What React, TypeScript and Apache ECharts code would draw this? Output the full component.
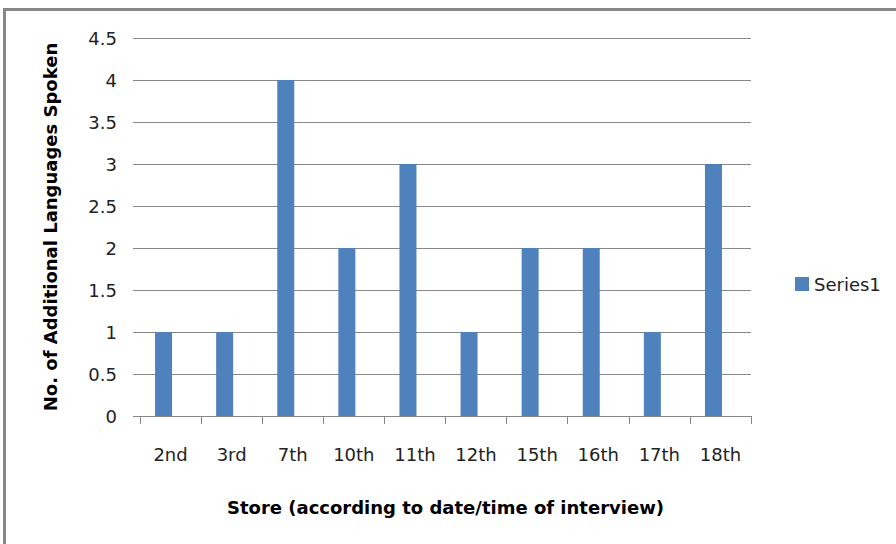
import React, { useEffect, useRef } from "react";
import * as echarts from "echarts";

const categories = ["2nd", "3rd", "7th", "10th", "11th", "12th", "15th", "16th", "17th", "18th"];
const values = [1, 1, 4, 2, 3, 1, 2, 2, 1, 3];
const seriesName = "Series1";
const yTitle = "No. of Additional Languages Spoken";
const xTitle = "Store (according to date/time of interview)";
const yMin = 0;
const yMax = 4.5;
const yStep = 0.5;

const FONT = "'DejaVu Sans', sans-serif";
const GRID_COLOR = "#888888";

export default function App() {
  const ref = useRef<HTMLDivElement>(null);
  useEffect(() => {
    if (!ref.current) return;
    const chart = echarts.init(ref.current, null, { renderer: "svg" });
    chart.setOption({
      animation: false,
      backgroundColor: "#ffffff",
      textStyle: { fontFamily: FONT },
      legend: {
        data: [seriesName],
        left: 790,
        top: 270,
        orient: "vertical",
        itemWidth: 14,
        itemHeight: 14,
        icon: "rect",
        textStyle: { fontFamily: FONT, fontSize: 18, color: "#222" },
      },
      graphic: [
        { type: "rect", shape: { x: 3, y: 8, width: 3, height: 540 }, style: { fill: "#888888" } },
        { type: "rect", shape: { x: 3, y: 8, width: 900, height: 3 }, style: { fill: "#888888" } },
      ],
      grid: [
        { left: 140, top: 38, width: 611, height: 378 },
        { left: 133, top: 38, width: 611, height: 378 },
      ],
      xAxis: [
        {
          type: "category",
          gridIndex: 0,
          data: categories,
          name: xTitle,
          nameLocation: "middle",
          nameGap: 82,
          nameTextStyle: { fontFamily: FONT, fontSize: 18, fontWeight: "bold", color: "#000" },
          axisLine: { show: true, lineStyle: { color: GRID_COLOR, width: 1 } },
          axisTick: { show: true, length: 8, lineStyle: { color: GRID_COLOR } },
          axisLabel: { fontFamily: FONT, fontSize: 18, color: "#222", margin: 29 },
        },
        {
          type: "category",
          gridIndex: 1,
          data: categories,
          show: false,
        },
      ],
      yAxis: [
        {
          type: "value",
          gridIndex: 0,
          min: yMin,
          max: yMax,
          interval: yStep,
          name: yTitle,
          nameLocation: "middle",
          nameGap: 81,
          nameTextStyle: { fontFamily: FONT, fontSize: 18, fontWeight: "bold", color: "#000" },
          axisLine: { show: false },
          axisTick: { show: true, inside: false, length: 7, lineStyle: { color: GRID_COLOR } },
          axisLabel: { fontFamily: FONT, fontSize: 18, color: "#222", margin: 23 },
          splitLine: { show: true, lineStyle: { color: GRID_COLOR, width: 1 } },
        },
        {
          type: "value",
          gridIndex: 1,
          min: yMin,
          max: yMax,
          interval: yStep,
          show: false,
          splitLine: { show: false },
        },
      ],
      series: [
        {
          name: seriesName,
          type: "bar",
          xAxisIndex: 1,
          yAxisIndex: 1,
          data: values,
          barWidth: 17,
          itemStyle: { color: "#4F81BD" },
        },
      ],
    });
    return () => chart.dispose();
  }, []);
  return (
    <div
      ref={ref}
      style={{ position: "fixed", left: 0, top: 0, width: 896, height: 544 }}
    />
  );
}
